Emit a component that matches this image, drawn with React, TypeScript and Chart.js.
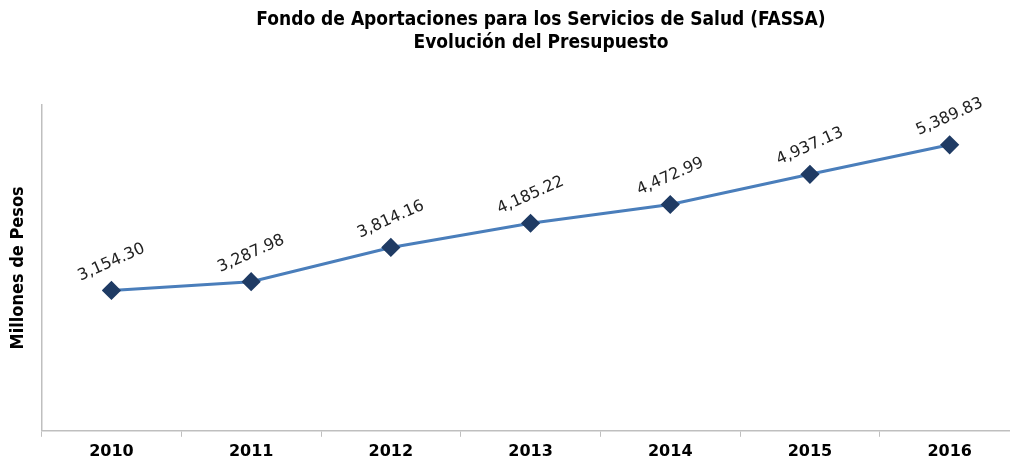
import React, { useEffect, useRef } from "react";
import { Chart, registerables } from "chart.js";

Chart.register(...registerables);

const years = ["2010", "2011", "2012", "2013", "2014", "2015", "2016"];
const budget = [3154.3, 3287.98, 3814.16, 4185.22, 4472.99, 4937.13, 5389.83];
const titleLines = [
  "Fondo de Aportaciones para los Servicios de Salud (FASSA)",
  "Evolución del Presupuesto",
];
const yTitle = "Millones de Pesos";

const fmt = (v: number) =>
  v.toLocaleString("en-US", { minimumFractionDigits: 2, maximumFractionDigits: 2 });

const titlePlugin = {
  id: "customTitle",
  afterDraw(chart: any) {
    const ctx = chart.ctx;
    ctx.save();
    ctx.fillStyle = "#000";
    ctx.font = "bold 19px 'DejaVu Sans Condensed', 'DejaVu Sans', sans-serif";
    ctx.textAlign = "center";
    ctx.textBaseline = "middle";
    titleLines.forEach((t, i) => ctx.fillText(t, 541, 20 + i * 23));
    ctx.restore();
  },
};

const labelPlugin = {
  id: "rotLabels",
  afterDatasetsDraw(chart: any) {
    const ctx = chart.ctx;
    const meta = chart.getDatasetMeta(0);
    ctx.save();
    ctx.fillStyle = "#222";
    ctx.font = "16px 'DejaVu Sans', sans-serif";
    ctx.textAlign = "center";
    ctx.textBaseline = "middle";
    meta.data.forEach((pt: any, i: number) => {
      ctx.save();
      ctx.translate(pt.x, pt.y - 28);
      ctx.rotate((-24 * Math.PI) / 180);
      ctx.fillText(fmt(budget[i]), 0, 0);
      ctx.restore();
    });
    ctx.restore();
  },
};

export default function App() {
  const ref = useRef<HTMLCanvasElement>(null);
  useEffect(() => {
    document.body.style.overflow = "hidden";
    const chart = new Chart(ref.current!, {
      type: "line",
      data: {
        labels: years,
        datasets: [
          {
            data: budget,
            borderColor: "#4A7EBB",
            borderWidth: 3,
            pointStyle: "rectRot",
            pointRadius: 7.5,
            pointHoverRadius: 7.5,
            pointBackgroundColor: "#1F3B64",
            pointBorderColor: "#1F3B64",
            tension: 0,
          },
        ],
      },
      options: {
        animation: false,
        responsive: false,
        layout: { padding: { top: 105, right: 9, bottom: -3, left: 8 } },
        plugins: {
          legend: { display: false },
          tooltip: { enabled: false },
          title: { display: false },
        },
        scales: {
          x: {
            offset: true,
            grid: {
              offset: true,
              drawOnChartArea: false,
              drawTicks: true,
              tickLength: 6,
              color: "#BFBFBF",
            },
            border: { color: "#BFBFBF", width: 1.5 },
            ticks: {
              color: "#000",
              padding: 5,
              maxRotation: 0,
              font: { family: "'DejaVu Sans', sans-serif", weight: "bold", size: 16 },
            },
          },
          y: {
            min: 1000,
            max: 6000,
            grid: { display: false },
            border: { color: "#BFBFBF", width: 1.5 },
            ticks: { display: false },
            title: {
              display: true,
              text: yTitle,
              color: "#000",
              padding: { top: 0, bottom: 4 },
              font: { family: "'DejaVu Sans Condensed', 'DejaVu Sans', sans-serif", weight: "bold", size: 18 },
            },
          },
        },
      },
      plugins: [titlePlugin, labelPlugin],
    });
    return () => chart.destroy();
  }, []);
  return (
    <div style={{ position: "absolute", left: 0, top: 0 }}>
      <canvas ref={ref} width={1030} height={463} />
    </div>
  );
}
